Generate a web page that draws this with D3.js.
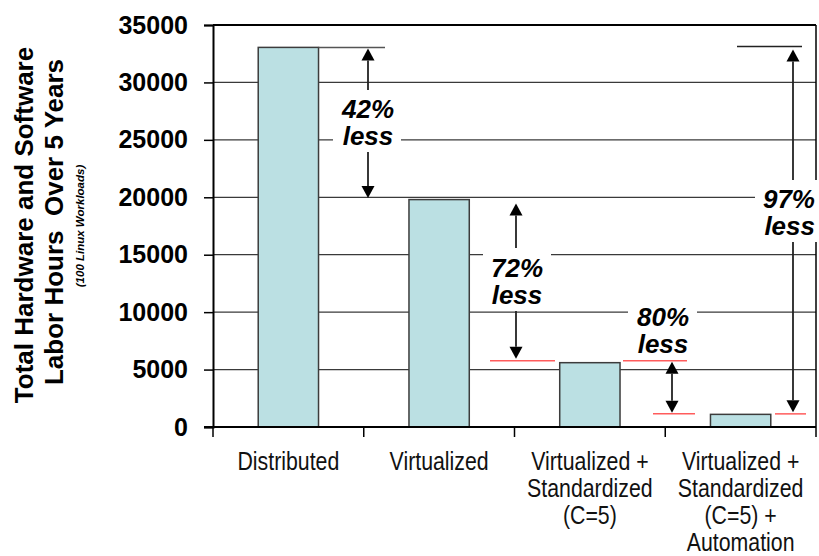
<!DOCTYPE html>
<html>
<head>
<meta charset="utf-8">
<script src="https://cdn.jsdelivr.net/npm/d3@7"></script>
<style>
  html, body { margin: 0; padding: 0; background: #fff; }
  svg { display: block; }
  text { white-space: pre; }
</style>
</head>
<body>
<svg id="chart" width="819" height="556"></svg>
<script>
// Labor hours by deployment scenario
const categories = [
  ["Distributed"],
  ["Virtualized"],
  ["Virtualized +", "Standardized", "(C=5)"],
  ["Virtualized +", "Standardized", "(C=5) +", "Automation"]
];
const hours = [33050, 19800, 5600, 1100];
const yTicks = [0, 5000, 10000, 15000, 20000, 25000, 30000, 35000];
const reductions = ["42%", "72%", "80%", "97%"];
const reductionPairs = [[0, 1], [1, 2], [2, 3], [0, 3]];
const titleLines = ["Total Hardware and Software", "Labor Hours  Over 5 Years"];
const subtitle = "(100 Linux Workloads)";

const svg = d3.select("#chart");
const plotL = 213, plotR = 816, plotT = 25, plotB = 427;
const keys = categories.map(c => c.join(" "));

const x = d3.scaleBand().domain(keys).range([plotL, plotR])
  .paddingInner(0.6).paddingOuter(0.3);
const y = d3.scaleLinear().domain([0, 35000]).range([plotB, plotT]);
const step = x.step();

const boldFont = "'Liberation Sans', Arial, Helvetica, sans-serif";

// gridlines
svg.append("g").selectAll("line")
  .data(yTicks.filter(v => v > 0 && v < 35000))
  .join("line")
  .attr("x1", plotL).attr("x2", plotR)
  .attr("y1", d => y(d)).attr("y2", d => y(d))
  .attr("stroke", "#3a3a3a").attr("stroke-width", 1.2);

// bars
svg.append("g").selectAll("rect")
  .data(hours)
  .join("rect")
  .attr("x", (d, i) => x(keys[i]))
  .attr("width", x.bandwidth())
  .attr("y", d => y(d))
  .attr("height", d => plotB - y(d))
  .attr("fill", "#bbe0e3")
  .attr("stroke", "#3c3c3c").attr("stroke-width", 1.5);

// y axis
const yAxis = svg.append("g")
  .attr("transform", `translate(${plotL},0)`)
  .call(d3.axisLeft(y).tickValues(yTicks).tickSize(9).tickPadding(16).tickFormat(d3.format("d")));
yAxis.select(".domain").attr("stroke", "#000").attr("stroke-width", 2);
yAxis.selectAll(".tick line").attr("stroke", "#000").attr("stroke-width", 1.5);
yAxis.selectAll(".tick text")
  .attr("font-family", boldFont).attr("font-weight", "bold")
  .attr("font-size", 25).attr("fill", "#000");

// frame: top, right and bottom axis line with category ticks
const frame = svg.append("g").attr("stroke", "#000");
frame.append("line").attr("x1", plotL).attr("x2", plotR).attr("y1", plotT).attr("y2", plotT).attr("stroke-width", 2);
frame.append("line").attr("x1", plotL - 9).attr("x2", plotR).attr("y1", plotB).attr("y2", plotB).attr("stroke-width", 2);
frame.append("line").attr("x1", plotR).attr("x2", plotR).attr("y1", plotT).attr("y2", plotB).attr("stroke-width", 1.5);
frame.selectAll("line.xt")
  .data(d3.range(keys.length + 1))
  .join("line").attr("class", "xt")
  .attr("x1", i => plotL + i * step).attr("x2", i => plotL + i * step)
  .attr("y1", plotB).attr("y2", plotB + 10)
  .attr("stroke-width", 1.5);

// category labels in a narrow face (squeezed regular face if none is installed)
const narrowFont = "'Liberation Sans Narrow', 'Arial Narrow', 'Liberation Sans', Arial, sans-serif";
const regularFont = "'Liberation Sans', Arial, sans-serif";
const probe = svg.append("text").attr("font-size", 26).text("Distributed Virtualized");
probe.attr("font-family", narrowFont);
const wNarrow = probe.node().getComputedTextLength();
probe.attr("font-family", regularFont);
const wRegular = probe.node().getComputedTextLength();
probe.remove();
const squeeze = wNarrow > wRegular * 0.95 ? 0.82 : 1;

const xLabels = svg.append("g");
categories.forEach((lines, i) => {
  const cx = x(keys[i]) + x.bandwidth() / 2;
  const t = xLabels.append("text")
    .attr("transform", `translate(${cx},0) scale(${squeeze},1)`)
    .attr("text-anchor", "middle")
    .attr("font-family", narrowFont)
    .attr("font-size", 26).attr("fill", "#111");
  lines.forEach((s, j) => {
    t.append("tspan").attr("x", 0).attr("y", 470 + j * 27).text(s);
  });
});

// y axis title
const title = svg.append("g").attr("font-family", boldFont).attr("fill", "#000");
title.append("text").attr("transform", "translate(33,225) rotate(-90)")
  .attr("text-anchor", "middle").attr("font-weight", "bold").attr("font-size", 26).text(titleLines[0]);
title.append("text").attr("transform", "translate(63,222) rotate(-90)")
  .attr("text-anchor", "middle").attr("font-weight", "bold").attr("font-size", 26).text(titleLines[1]);
title.append("text").attr("transform", "translate(84,226) rotate(-90)")
  .attr("text-anchor", "middle").attr("font-weight", "bold").attr("font-style", "italic")
  .attr("font-size", 11.5).text(subtitle);

// reduction annotations
const ann = svg.append("g");
const red = "#ff5c5c";

function hline(x1, x2, yy, color) {
  ann.append("line").attr("x1", x1).attr("x2", x2).attr("y1", yy).attr("y2", yy)
    .attr("stroke", color).attr("stroke-width", 1.5);
}
function arrow(ax, y1, y2) {
  const hw = 6.5, hl = 12;
  ann.append("line").attr("x1", ax).attr("x2", ax).attr("y1", y1 + hl).attr("y2", y2 - hl)
    .attr("stroke", "#222").attr("stroke-width", 1.8);
  ann.append("path").attr("d", `M${ax},${y1}L${ax - hw},${y1 + hl}L${ax + hw},${y1 + hl}Z`).attr("fill", "#000");
  ann.append("path").attr("d", `M${ax},${y2}L${ax - hw},${y2 - hl}L${ax + hw},${y2 - hl}Z`).attr("fill", "#000");
}
function label(k, bx, by, bw, bh, tx, ty, anchor) {
  ann.append("rect").attr("x", bx).attr("y", by).attr("width", bw).attr("height", bh).attr("fill", "#fff");
  const t = ann.append("text").attr("font-family", boldFont).attr("font-weight", "bold")
    .attr("font-style", "italic").attr("font-size", 26).attr("fill", "#000")
    .attr("text-anchor", anchor || "middle");
  t.append("tspan").attr("x", tx).attr("y", ty).text(reductions[k]);
  t.append("tspan").attr("x", tx).attr("y", ty + 27).text("less");
}

const barRight = i => x(keys[i]) + x.bandwidth();
const [p0, p1, p2, p3] = reductionPairs;

// Distributed -> Virtualized
hline(barRight(p0[0]), 385, y(hours[p0[0]]), "#555");
arrow(368, y(hours[p0[0]]) + 1, y(hours[p0[1]]) - 1.5);
label(0, 333, 90, 68, 62, 368, 118);

// Virtualized -> Virtualized + Standardized
arrow(516, y(hours[p1[0]]) + 4, y(hours[p1[1]]) - 4);
label(1, 483, 248, 68, 63, 517, 277);
hline(490, 555, y(hours[p1[1]]) - 2, red);

// Standardized -> Automation
label(2, 628, 300, 69, 57, 663, 326);
arrow(672, y(hours[p2[0]]) - 1, y(hours[p2[1]]) - 1.5);
hline(623, 687, y(hours[p2[0]]) - 2, red);
hline(653, 695, y(hours[p2[1]]) - 0.5, red);

// Distributed -> Automation
hline(737, 802, y(hours[p3[0]]) - 1, "#222");
arrow(793, y(hours[p3[0]]) + 2, y(hours[p3[1]]) - 2);
label(3, 755, 180, 64, 62, 815, 208, "end");
hline(775, 806, y(hours[p3[1]]) - 0.5, red);
</script>
</body>
</html>
